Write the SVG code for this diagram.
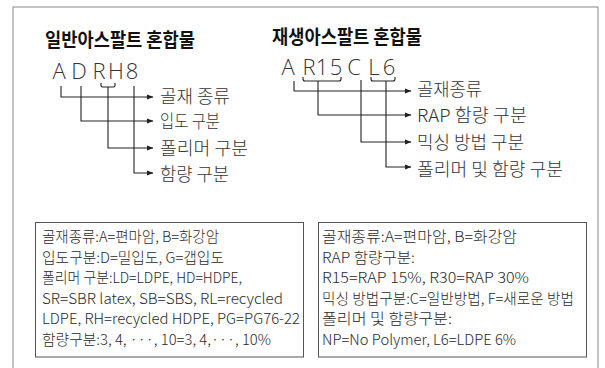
<svg xmlns="http://www.w3.org/2000/svg" width="605" height="368" viewBox="0 0 605 368">
<defs>
<marker id="ah" markerWidth="7" markerHeight="6" refX="6" refY="3" orient="auto" markerUnits="userSpaceOnUse">
<path d="M0,0.5 L6.5,3 L0,5.5 Z" fill="#222"/>
</marker>
<style>
.title{font-family:"Noto Sans CJK KR","Noto Sans",sans-serif;font-weight:bold;font-size:19px;fill:#111}
.code{font-family:"Open Sans","Liberation Sans",sans-serif;font-weight:300;font-size:22px;fill:#333;text-anchor:middle}
.lbl{font-family:"Noto Sans CJK KR","Noto Sans",sans-serif;font-weight:300;font-size:18px;fill:#333}
.bx{font-family:"Noto Sans CJK KR","Noto Sans",sans-serif;font-weight:300;font-size:14.5px;fill:#2a2a2a}
.box{fill:#fff;stroke:#555;stroke-width:1}
.conn path{fill:none;stroke:#222;stroke-width:1.1}
</style>
</defs>
<rect width="605" height="368" fill="#fff"/>
<rect id="frame" x="13" y="7" width="585" height="380" fill="none" stroke="#888" stroke-width="1"/>

<g id="left-title"><text class="title" x="45" y="47" textLength="150" lengthAdjust="spacingAndGlyphs">일반아스팔트 혼합물</text></g>
<g id="left-code">
<text class="code" x="59" y="79">A</text>
<text class="code" x="79" y="79">D</text>
<text class="code" x="99" y="79">R</text>
<text class="code" x="116" y="79">H</text>
<text class="code" x="132" y="79">8</text>
</g>
<g id="left-labels">
<text class="lbl" x="160" y="103" textLength="70" lengthAdjust="spacingAndGlyphs">골재 종류</text>
<text class="lbl" x="160" y="128" textLength="60" lengthAdjust="spacingAndGlyphs">입도 구분</text>
<text class="lbl" x="160" y="155" textLength="88" lengthAdjust="spacingAndGlyphs">폴리머 구분</text>
<text class="lbl" x="160" y="181" textLength="69" lengthAdjust="spacingAndGlyphs">함량 구분</text>
</g>

<g id="right-title"><text class="title" x="272" y="44" textLength="150" lengthAdjust="spacingAndGlyphs">재생아스팔트 혼합물</text></g>
<g id="right-code">
<text class="code" x="288" y="75">A</text>
<text class="code" x="309" y="75">R</text>
<text class="code" x="322" y="75">1</text>
<text class="code" x="336" y="75">5</text>
<text class="code" x="354" y="75">C</text>
<text class="code" x="374" y="75">L</text>
<text class="code" x="389" y="75">6</text>
</g>
<g id="right-labels">
<text class="lbl" x="417" y="96" textLength="65" lengthAdjust="spacingAndGlyphs">골재종류</text>
<text class="lbl" x="417" y="122" textLength="110" lengthAdjust="spacingAndGlyphs">RAP 함량 구분</text>
<text class="lbl" x="417" y="149" textLength="107" lengthAdjust="spacingAndGlyphs">믹싱 방법 구분</text>
<text class="lbl" x="417" y="176" textLength="146" lengthAdjust="spacingAndGlyphs">폴리머 및 함량 구분</text>
</g>

<g id="connectors" class="conn">
<path d="M61,86 V97 H153" marker-end="url(#ah)"/>
<path d="M81,86 V121 H153" marker-end="url(#ah)"/>
<path d="M101,83 V85.5 Q101,87 102.5,87 H113.5 Q115,87 115,85.5 V83"/>
<path d="M108,87 V148 H153" marker-end="url(#ah)"/>
<path d="M134,86 V173 H153" marker-end="url(#ah)"/>
<path d="M294,81 V91 H411" marker-end="url(#ah)"/>
<path d="M303,77 V79 Q303,81 305,81 H339 Q341,81 341,79 V77"/>
<path d="M318,81 V115 H411" marker-end="url(#ah)"/>
<path d="M361,80 V142 H411" marker-end="url(#ah)"/>
<path d="M371,77 V79 Q371,81 373,81 H393 Q395,81 395,79 V77"/>
<path d="M386,81 V167 H411" marker-end="url(#ah)"/>
</g>

<g id="left-box">
<rect class="box" x="35.5" y="222.5" width="268" height="134.5"/>
<text class="bx" x="42" y="242" textLength="177" lengthAdjust="spacingAndGlyphs">골재종류:A=편마암, B=화강암</text>
<text class="bx" x="42" y="262.5" textLength="182" lengthAdjust="spacingAndGlyphs">입도구분:D=밀입도, G=갭입도</text>
<text class="bx" x="42" y="283" textLength="200" lengthAdjust="spacingAndGlyphs">폴리머 구분:LD=LDPE, HD=HDPE,</text>
<text class="bx" x="42" y="303.5" textLength="241" lengthAdjust="spacingAndGlyphs">SR=SBR latex, SB=SBS, RL=recycled</text>
<text class="bx" x="42" y="324" textLength="258" lengthAdjust="spacingAndGlyphs">LDPE, RH=recycled HDPE, PG=PG76-22</text>
<text class="bx" x="42" y="344.5" textLength="229" lengthAdjust="spacingAndGlyphs">함량구분:3, 4, ···, 10=3,  4,···, 10%</text>
</g>

<g id="right-box">
<rect class="box" x="318.5" y="222.5" width="268" height="134.5"/>
<text class="bx" x="322" y="242" textLength="195" lengthAdjust="spacingAndGlyphs">골재종류:A=편마암, B=화강암</text>
<text class="bx" x="322" y="262.5" textLength="93" lengthAdjust="spacingAndGlyphs">RAP 함량구분:</text>
<text class="bx" x="322" y="283" textLength="207" lengthAdjust="spacingAndGlyphs">R15=RAP 15%, R30=RAP 30%</text>
<text class="bx" x="322" y="303.5" textLength="252" lengthAdjust="spacingAndGlyphs">믹싱 방법구분:C=일반방법, F=새로운 방법</text>
<text class="bx" x="322" y="324" textLength="130" lengthAdjust="spacingAndGlyphs">폴리머 및 함량구분:</text>
<text class="bx" x="322" y="344.5" textLength="194" lengthAdjust="spacingAndGlyphs">NP=No Polymer, L6=LDPE 6%</text>
</g>
</svg>
